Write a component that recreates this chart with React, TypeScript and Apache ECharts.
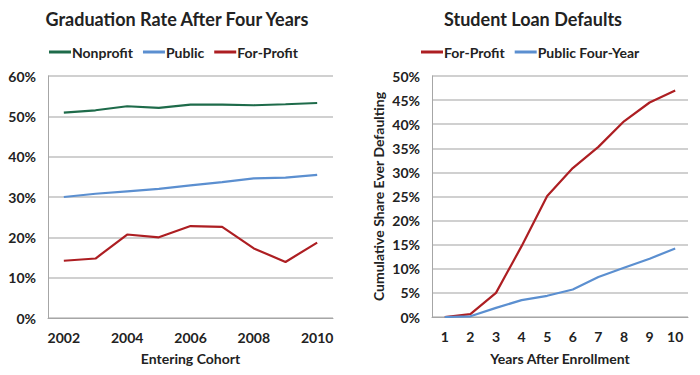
import React, { useEffect, useRef } from "react";
import * as echarts from "echarts";

const cohorts = ["2002", "2003", "2004", "2005", "2006", "2007", "2008", "2009", "2010"];
const nonprofit = [50.9, 51.5, 52.5, 52.1, 52.9, 52.9, 52.75, 53.0, 53.3];
const publicRate = [30.0, 30.8, 31.4, 32.0, 32.9, 33.7, 34.6, 34.8, 35.5];
const forProfitRate = [14.2, 14.75, 20.7, 20.0, 22.8, 22.6, 17.25, 13.9, 18.7];

const years = ["1", "2", "3", "4", "5", "6", "7", "8", "9", "10"];
const forProfitDefault = [0, 0.6, 5.0, 14.7, 25.1, 30.9, 35.3, 40.6, 44.5, 47.0];
const publicFourYearDefault = [0, 0.15, 1.9, 3.5, 4.4, 5.7, 8.3, 10.2, 12.1, 14.2];

const GREEN = "#1e6b4a";
const BLUE = "#5b8fd0";
const RED = "#ad1e22";
const GRID = "#c0c0c0";
const TEXT = "#222222";
const FONT = "Lato, 'Open Sans', sans-serif";

export default function App() {
  const ref = useRef<HTMLDivElement>(null);
  useEffect(() => {
    if (!ref.current) return;
    const chart = echarts.init(ref.current, null, { renderer: "svg" });
    const axisLabel = { color: TEXT, fontSize: 14, fontWeight: "bold" as const, fontFamily: FONT };
    const nameStyle = { color: TEXT, fontSize: 14, fontWeight: "bold" as const, fontFamily: FONT };
    const lineSeries = (name: string, data: number[], color: string, idx: number) => ({
      name,
      type: "line",
      data,
      xAxisIndex: idx,
      yAxisIndex: idx,
      showSymbol: false,
      symbol: "none",
      lineStyle: { color, width: 2.2 },
      itemStyle: { color },
    });
    const legendBase = {
      icon: "rect",
      itemWidth: 22,
      itemHeight: 3,
      itemGap: 10,
      textStyle: { color: TEXT, fontSize: 14, fontWeight: "bold" as const, fontFamily: FONT, padding: [0, 0, 0, -4] },
    };
    chart.setOption({
      animation: false,
      backgroundColor: "#ffffff",
      title: [
        {
          text: "Graduation Rate After Four Years",
          left: 172,
          top: 5,
          textAlign: "center",
          textStyle: { color: TEXT, fontSize: 18, fontWeight: "bold", fontFamily: FONT },
        },
        {
          text: "Student Loan Defaults",
          left: 528,
          top: 5,
          textAlign: "center",
          textStyle: { color: TEXT, fontSize: 18, fontWeight: "bold", fontFamily: FONT },
        },
      ],
      legend: [
        { ...legendBase, left: 44, top: 40, data: ["Nonprofit", "Public", "For-Profit"] },
        { ...legendBase, left: 416, top: 40, data: ["For-Profit", "Public Four-Year"] },
      ],
      grid: [
        { left: 48, right: 700 - 333, top: 76, bottom: 375 - 318 },
        { left: 432, right: 700 - 688, top: 76, bottom: 375 - 317 },
      ],
      xAxis: [
        {
          type: "category",
          gridIndex: 0,
          data: cohorts,
          boundaryGap: true,
          name: "Entering Cohort",
          nameLocation: "middle",
          nameGap: 33,
          nameTextStyle: nameStyle,
          axisLine: { lineStyle: { color: "#a6a6a6" } },
          axisTick: { interval: 0, length: 5, lineStyle: { color: "#a6a6a6" } },
          axisLabel: { ...axisLabel, interval: 1, margin: 12 },
        },
        {
          type: "category",
          gridIndex: 1,
          data: years,
          boundaryGap: true,
          name: "Years After Enrollment",
          nameLocation: "middle",
          nameGap: 34,
          nameTextStyle: nameStyle,
          axisLine: { lineStyle: { color: "#a6a6a6" } },
          axisTick: { interval: 0, length: 5, lineStyle: { color: "#a6a6a6" } },
          axisLabel: { ...axisLabel, interval: 0, margin: 12 },
        },
      ],
      yAxis: [
        {
          type: "value",
          gridIndex: 0,
          min: 0,
          max: 60,
          interval: 10,
          axisLine: { show: true, lineStyle: { color: "#a6a6a6" } },
          axisTick: { show: false },
          splitLine: { lineStyle: { color: GRID, width: 1.5 } },
          axisLabel: { ...axisLabel, formatter: "{value}%", margin: 12 },
        },
        {
          type: "value",
          gridIndex: 1,
          min: 0,
          max: 50,
          interval: 5,
          name: "Cumulative Share Ever Defaulting",
          nameLocation: "middle",
          nameGap: 47,
          nameTextStyle: nameStyle,
          axisLine: { show: true, lineStyle: { color: "#a6a6a6" } },
          axisTick: { show: false },
          splitLine: { lineStyle: { color: GRID, width: 1.5 } },
          axisLabel: { ...axisLabel, formatter: "{value}%", margin: 12 },
        },
      ],
      series: [
        lineSeries("Nonprofit", nonprofit, GREEN, 0),
        lineSeries("Public", publicRate, BLUE, 0),
        lineSeries("For-Profit", forProfitRate, RED, 0),
        lineSeries("For-Profit", forProfitDefault, RED, 1),
        lineSeries("Public Four-Year", publicFourYearDefault, BLUE, 1),
      ],
    });
    return () => chart.dispose();
  }, []);
  return (
    <div
      ref={ref}
      style={{ position: "fixed", left: 0, top: 0, width: 700, height: 375, background: "#fff" }}
    />
  );
}
